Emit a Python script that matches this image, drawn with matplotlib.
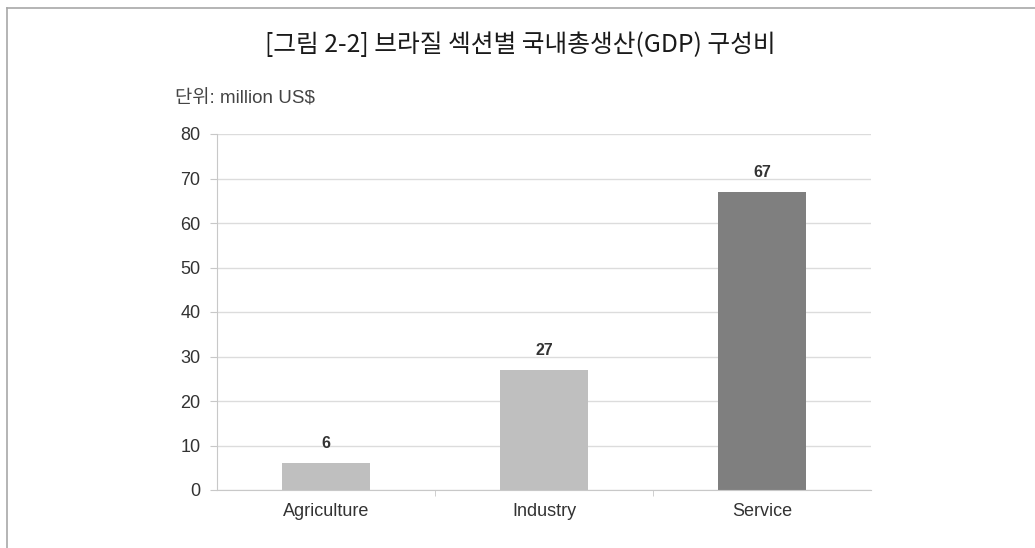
import matplotlib
matplotlib.use("Agg")
import matplotlib.pyplot as plt
from matplotlib.lines import Line2D
import numpy as np

# GDP composition by sector, Brazil
sectors = ["Agriculture", "Industry", "Service"]
values = [6, 27, 67]
bar_colors = ["#bfbfbf", "#bfbfbf", "#7f7f7f"]
yticks = [0, 10, 20, 30, 40, 50, 60, 70, 80]

title = "[그림 2-2] 브라질 섹션별 국내총생산(GDP) 구성비"
unit_label = "단위: million US$"

sans = ["Liberation Sans", "Noto Sans CJK KR", "DejaVu Sans"]
kr = ["Noto Sans CJK KR", "DejaVu Sans"]

fig = plt.figure(figsize=(10.35, 5.48), dpi=100)
fig.patch.set_facecolor("white")

# outer frame: only the top and left edges show
fig.add_artist(Line2D([7 / 1035, 1.0], [1 - 8 / 548, 1 - 8 / 548],
                      transform=fig.transFigure, color="#a8a8a8", lw=1.2))
fig.add_artist(Line2D([7 / 1035, 7 / 1035], [0.0, 1 - 8 / 548],
                      transform=fig.transFigure, color="#a8a8a8", lw=1.2))

fig.text(0.503, 1 - 45 / 548, title, ha="center", va="center",
         fontsize=17.8, color="#1a1a1a", family=kr)
fig.text(175 / 1035, 1 - 99 / 548, unit_label, ha="left", va="center",
         fontsize=13.5, color="#444444", family=sans)

ax = fig.add_axes([217 / 1035, 1 - 490 / 548, 654 / 1035, 356 / 548])
x = np.arange(len(sectors))
bars = ax.bar(x, values, width=0.40, color=bar_colors, zorder=3)

for xi, v in zip(x, values):
    ax.annotate(str(v), (xi, v), xytext=(0, 14), textcoords="offset points",
                ha="center", va="center", fontsize=11.5, fontweight="bold",
                color="#333333", family=sans)

ax.set_xlim(-0.5, 2.5)
ax.set_ylim(0, 80)
ax.set_yticks(yticks)
ax.set_yticklabels([str(t) for t in yticks], family=sans, fontsize=13,
                   color="#333333")
ax.set_xticks(x)
ax.set_xticklabels(sectors, family=sans, fontsize=13, color="#333333")
ax.set_xticks([0.5, 1.5], minor=True)

ax.tick_params(axis="x", which="major", length=0, pad=9)
ax.tick_params(axis="x", which="minor", length=4, color="#c8c8c8",
               direction="out")
ax.tick_params(axis="y", length=5, color="#c8c8c8", pad=7)

ax.grid(axis="y", color="#dcdcdc", lw=1, zorder=0)
for side in ["top", "right"]:
    ax.spines[side].set_visible(False)
ax.spines["left"].set_color("#c8c8c8")
ax.spines["bottom"].set_color("#c8c8c8")
ax.spines["bottom"].set_zorder(4)

fig.savefig("out.png", dpi=100, facecolor="white")
